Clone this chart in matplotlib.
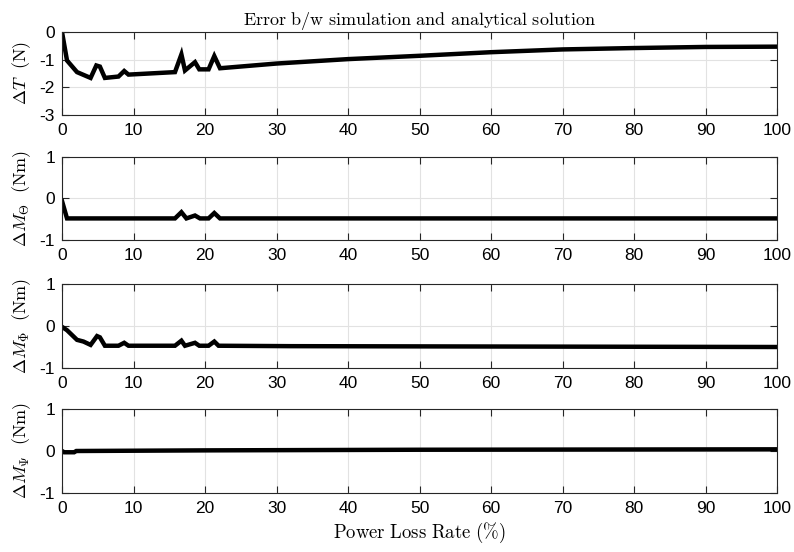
import matplotlib
matplotlib.use('Agg')
import matplotlib.pyplot as plt
import numpy as np

# Data
x_T = [0, 0.7, 2.1, 4.0, 4.8, 5.3, 6.0, 7.9, 8.7, 9.3, 15.8, 16.7, 17.2, 18.6, 19.2,
       20.5, 21.3, 22.1, 30, 40, 50, 60, 70, 80, 90, 100]
dT = [0, -1.03, -1.45, -1.66, -1.21, -1.25, -1.66, -1.61, -1.41, -1.54, -1.45, -0.81,
      -1.39, -1.09, -1.35, -1.35, -0.87, -1.31, -1.14, -0.98, -0.86, -0.73, -0.63,
      -0.58, -0.54, -0.53]

x_th = [0, 0.7, 15.8, 16.7, 17.4, 18.6, 19.3, 20.5, 21.3, 22.1, 100]
dM_th = [-0.06, -0.48, -0.48, -0.33, -0.48, -0.41, -0.48, -0.48, -0.35, -0.48, -0.48]

x_ph = [0, 0.7, 2.1, 3.0, 4.0, 4.9, 5.3, 6.0, 7.9, 8.7, 9.3, 15.8, 16.7, 17.2, 18.6,
        19.2, 20.5, 21.3, 21.9, 32, 100]
dM_ph = [-0.02, -0.1, -0.33, -0.37, -0.45, -0.24, -0.27, -0.47, -0.47, -0.4, -0.47,
         -0.47, -0.35, -0.47, -0.4, -0.47, -0.47, -0.37, -0.47, -0.48, -0.5]

x_ps = [0, 0.3, 1.7, 2.0, 20, 50, 100]
dM_ps = [0.0, -0.03, -0.03, 0.0, 0.015, 0.03, 0.04]

ylabels = [r'$\Delta T\ \ \mathrm{(N)}$', r'$\Delta M_\Theta\ \ \mathrm{(Nm)}$',
           r'$\Delta M_\Phi\ \ \mathrm{(Nm)}$', r'$\Delta M_\Psi\ \ \mathrm{(Nm)}$']
ylims = [(-3, 0), (-1, 1), (-1, 1), (-1, 1)]
yticks = [[-3, -2, -1, 0], [-1, 0, 1], [-1, 0, 1], [-1, 0, 1]]
xticks = list(range(0, 101, 10))

plt.rcParams['font.family'] = ['Liberation Sans', 'DejaVu Sans']
plt.rcParams['mathtext.fontset'] = 'cm'
plt.rcParams['axes.unicode_minus'] = False

fig = plt.figure(figsize=(7.94, 5.52), dpi=100)

# axes boxes in pixels: top, bottom
boxes = [(32, 115), (157, 240), (284, 368), (409, 493)]
series = [(x_T, dT), (x_th, dM_th), (x_ph, dM_ph), (x_ps, dM_ps)]

for i, ((top, bot), (xs, ys)) in enumerate(zip(boxes, series)):
    ax = fig.add_axes([62 / 794, 1 - bot / 552, 715 / 794, (bot - top) / 552])
    ax.plot(xs, ys, color='black', linewidth=3.2, solid_joinstyle='miter')
    ax.set_xlim(0, 100)
    ax.set_ylim(*ylims[i])
    ax.set_xticks(xticks)
    ax.set_yticks(yticks[i])
    ax.grid(True, color='#e2e2e2', linewidth=0.8)
    ax.set_axisbelow(True)
    ax.tick_params(direction='in', top=True, right=True, length=5, width=0.8,
                   labelsize=12.5, colors='#262626')
    ax.tick_params(axis='x', pad=6)
    ax.tick_params(axis='y', pad=5)
    ax.tick_params(labelcolor='black')
    for s in ax.spines.values():
        s.set_color('#262626')
        s.set_linewidth(0.8)
    ax.set_ylabel(ylabels[i], fontsize=13, labelpad=5)
    if i == 0:
        ax.set_title(r'$\mathrm{Error\ b/w\ simulation\ and\ analytical\ solution}$',
                     fontsize=13, pad=5)
    if i == 3:
        ax.set_xlabel(r'$\mathrm{Power\ Loss\ Rate\ (\%)}$', fontsize=13.5, labelpad=3)

fig.savefig('out.png', dpi=100)
